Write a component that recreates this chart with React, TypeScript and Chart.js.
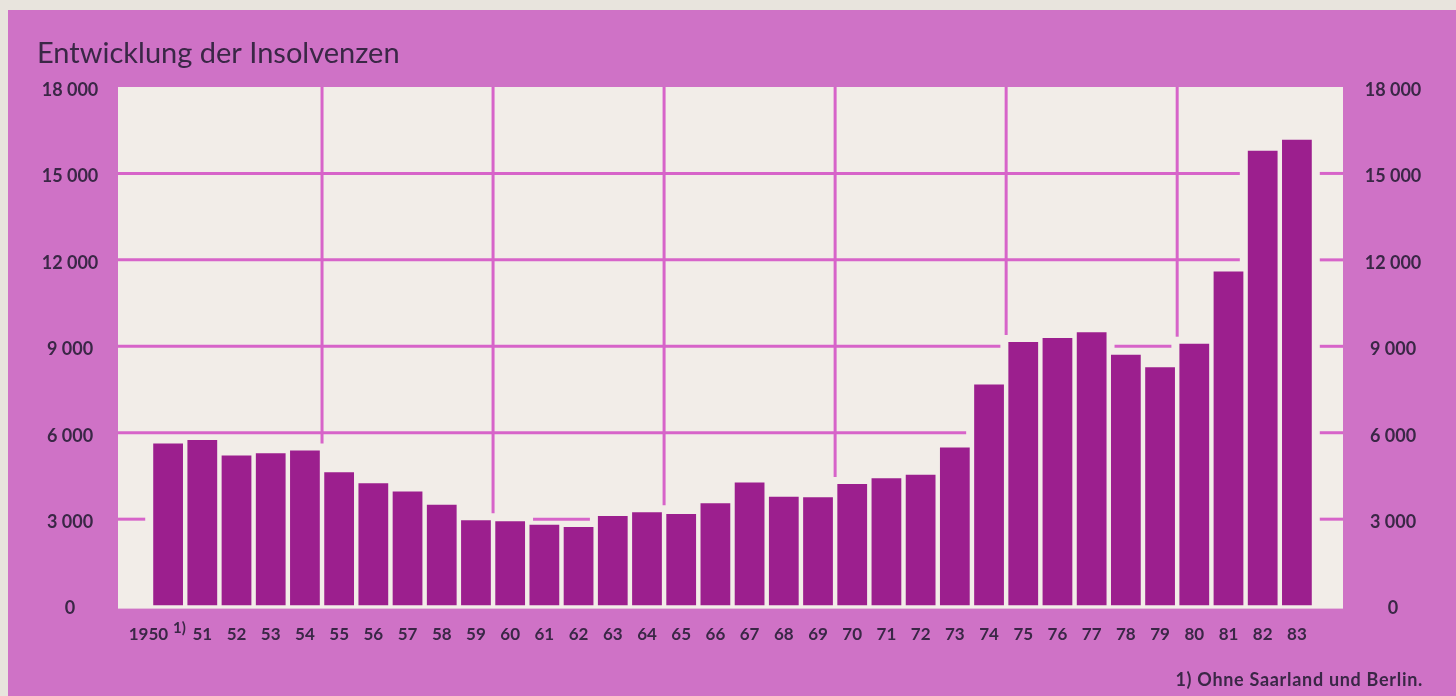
import React, { useEffect, useRef } from "react";
import { Chart, registerables } from "chart.js";

Chart.register(...registerables);

// Insolvencies per year, 1950–1983
const yearLabels = [
  "1950", "51", "52", "53", "54", "55", "56", "57", "58", "59",
  "60", "61", "62", "63", "64", "65", "66", "67", "68", "69",
  "70", "71", "72", "73", "74", "75", "76", "77", "78", "79",
  "80", "81", "82", "83",
];
const insolvencies = [
  5630, 5750, 5210, 5290, 5380, 4630, 4250, 3960, 3500, 2960,
  2930, 2810, 2730, 3110, 3240, 3180, 3550, 4270, 3780, 3760,
  4220, 4420, 4540, 5490, 7670, 9150, 9290, 9490, 8710, 8270,
  9090, 11600, 15790, 16170,
];
const yMax = 18000;
const yStep = 3000;
const gridValues = [3000, 6000, 9000, 12000, 15000];
// dividers are drawn after these bar indices (between 54/55, 59/60, ...)
const dividerAfter = [4, 9, 14, 19, 24, 29];

const title = "Entwicklung der Insolvenzen";
const footnoteMark = "1)";
const footnote = "1) Ohne Saarland und Berlin.";

const PAGE = "#e8e4dd";
const FRAME = "#cf72c6";
const PANEL = "#f2ede8";
const GRID = "#d764c9";
const BAR = "#9c1f8e";
const TEXT = "#3a2746";
const FONT = "Lato, 'Open Sans', sans-serif";

const X_FONT_SIZE = 17;
const Y_FONT_SIZE = 18;
const formatTick = (v: number) =>
  v >= 1000 ? `${Math.floor(v / 1000)} ${String(v % 1000).padStart(3, "0")}` : String(v);

function measure(text: string, font: string) {
  const c = document.createElement("canvas").getContext("2d")!;
  c.font = font;
  return c.measureText(text).width;
}

export default function App() {
  const canvasRef = useRef<HTMLCanvasElement | null>(null);

  useEffect(() => {
    const canvas = canvasRef.current;
    if (!canvas) return;

    const yFont = `bold ${Y_FONT_SIZE}px ${FONT}`;
    const xFont = `bold ${X_FONT_SIZE}px ${FONT}`;
    const widest = measure(formatTick(yMax), yFont);
    const LEFT_W = 151;
    const RIGHT_W = 142;
    const leftPad = LEFT_W - 70 - widest / 2;
    const rightPad = 1393 - (1456 - RIGHT_W) - widest / 2;

    const framePlugin = {
      id: "frame",
      beforeDraw(chart: any) {
        const { ctx, chartArea, scales } = chart;
        const ys = scales.y;
        const W = chart.width;
        const H = chart.height;
        ctx.save();
        ctx.fillStyle = PAGE;
        ctx.fillRect(0, 0, W, H);
        ctx.fillStyle = FRAME;
        ctx.fillRect(8, 10, W - 8, H - 10);

        const pl = chartArea.left - 33;
        const pr = chartArea.right + 29;
        const pt = ys.getPixelForValue(yMax);
        const pb = ys.getPixelForValue(0) + 3;
        ctx.fillStyle = PANEL;
        ctx.fillRect(pl, pt, pr - pl, pb - pt);

        const bars = chart.getDatasetMeta(0).data as any[];
        ctx.strokeStyle = GRID;
        ctx.lineWidth = 3;
        ctx.lineCap = "butt";

        // horizontal lines, interrupted around bars that reach them
        const gap = 8;
        for (const v of gridValues) {
          const py = ys.getPixelForValue(v);
          const blocked: [number, number][] = [];
          bars.forEach((b) => {
            if (b.y <= py + 3) {
              blocked.push([b.x - b.width / 2 - gap, b.x + b.width / 2 + gap]);
            }
          });
          let x = pl;
          const segs: [number, number][] = [];
          for (const [a, z] of blocked) {
            if (a > x) segs.push([x, a]);
            x = Math.max(x, z);
          }
          if (x < pr) segs.push([x, pr]);
          for (const [a, z] of segs) {
            ctx.beginPath();
            ctx.moveTo(a, py);
            ctx.lineTo(z, py);
            ctx.stroke();
          }
        }

        // vertical dividers every five years, stopping above the bars
        for (const i of dividerAfter) {
          const a = bars[i];
          const b = bars[i + 1];
          const px = (a.x + b.x) / 2;
          const stop = Math.min(a.y, b.y) - 7;
          ctx.beginPath();
          ctx.moveTo(px, pt);
          ctx.lineTo(px, stop);
          ctx.stroke();
        }
        ctx.restore();
      },
      afterDraw(chart: any) {
        const { ctx, scales } = chart;
        const xs = scales.x;
        ctx.save();
        ctx.fillStyle = TEXT;

        // title
        ctx.font = `29px ${FONT}`;
        ctx.textAlign = "left";
        ctx.textBaseline = "alphabetic";
        ctx.fillText(title, 37, 63);

        // first year label with its footnote mark
        const x0 = xs.getPixelForValue(0);
        ctx.font = xFont;
        ctx.textAlign = "right";
        ctx.textBaseline = "middle";
        ctx.fillText(yearLabels[0], x0, 635);
        ctx.font = `bold 15px ${FONT}`;
        ctx.textAlign = "left";
        ctx.fillText(footnoteMark, x0 + 5, 628);

        // footnote
        ctx.font = `bold 18px ${FONT}`;
        (ctx as any).letterSpacing = "0.7px";
        ctx.textAlign = "right";
        ctx.fillText(footnote, 1423, 680);
        ctx.restore();
      },
    };

    const axisCommon = {
      min: 0,
      max: yMax,
      border: { display: false },
      grid: { display: false, drawTicks: false },
    };

    const chart = new Chart(canvas, {
      type: "bar",
      data: {
        labels: yearLabels,
        datasets: [
          {
            data: insolvencies,
            backgroundColor: BAR,
            borderWidth: 0,
            categoryPercentage: 1,
            barPercentage: 0.87,
          },
        ],
      },
      options: {
        responsive: false,
        animation: false,
        events: [],
        layout: { padding: { left: 0, right: 0, top: 87, bottom: 32 } },
        plugins: {
          legend: { display: false },
          tooltip: { enabled: false },
          title: { display: false },
        },
        scales: {
          x: {
            type: "category",
            border: { display: false },
            grid: { display: false, drawTicks: false },
            ticks: {
              font: { family: FONT, size: X_FONT_SIZE, weight: "bold" },
              color: TEXT,
              padding: 19,
              maxRotation: 0,
              autoSkip: false,
              callback: (_v: any, i: number) => (i === 0 ? "" : yearLabels[i]),
            },
          },
          y: {
            ...axisCommon,
            position: "left",
            afterFit: (s: any) => {
              s.width = LEFT_W;
            },
            ticks: {
              stepSize: yStep,
              crossAlign: "center",
              padding: leftPad,
              labelOffset: 3,
              font: { family: FONT, size: Y_FONT_SIZE, weight: "bold" },
              color: TEXT,
              callback: (v: any) => formatTick(Number(v)),
            },
          },
          y2: {
            ...axisCommon,
            position: "right",
            afterFit: (s: any) => {
              s.width = RIGHT_W;
            },
            ticks: {
              stepSize: yStep,
              crossAlign: "center",
              padding: rightPad,
              labelOffset: 3,
              font: { family: FONT, size: Y_FONT_SIZE, weight: "bold" },
              color: TEXT,
              callback: (v: any) => formatTick(Number(v)),
            },
          },
        },
      },
      plugins: [framePlugin],
    });

    return () => chart.destroy();
  }, []);

  return (
    <div style={{ position: "fixed", left: 0, top: 0, width: 1456, height: 696 }}>
      <canvas ref={canvasRef} width={1456} height={696} style={{ display: "block" }} />
    </div>
  );
}
